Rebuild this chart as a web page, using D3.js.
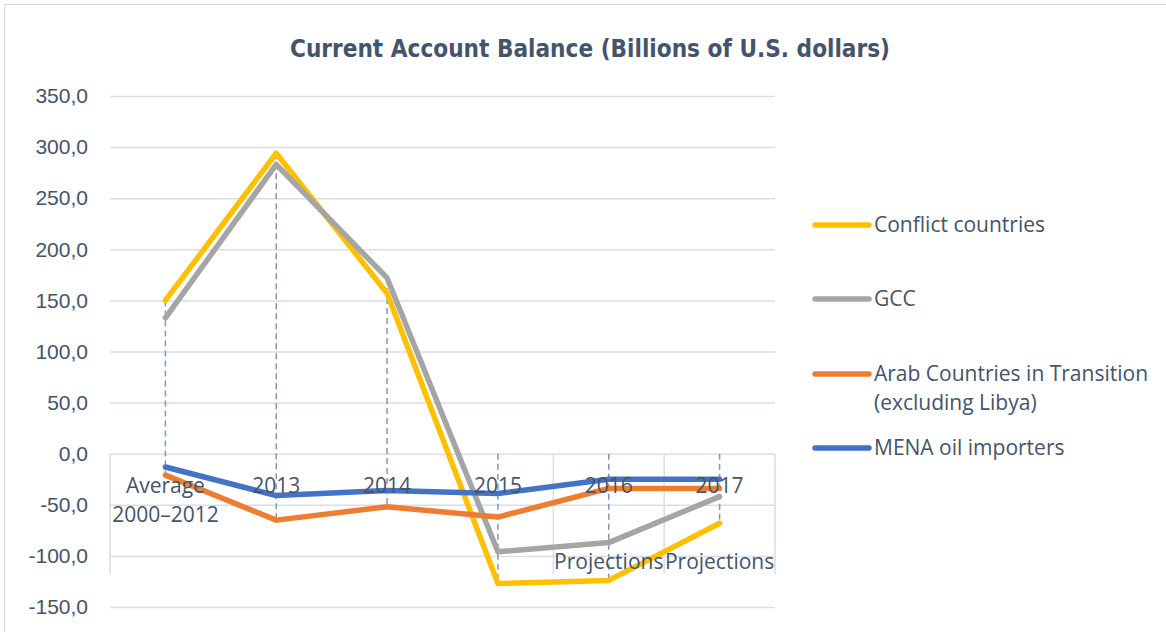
<!DOCTYPE html>
<html>
<head>
<meta charset="utf-8">
<script src="https://cdn.jsdelivr.net/npm/d3@7"></script>
<style>
  body { margin: 0; background: #fff; }
  text { fill: #44546a; }
</style>
</head>
<body>
<script>
var categories = ['Average 2000\u20132012', '2013', '2014', '2015', '2016', '2017'];
var catLines = [['Average', '2000\u20132012'], ['2013'], ['2014'], ['2015'], ['2016'], ['2017']];
var groupLabels = ['', '', '', '', 'Projections', 'Projections'];

var seriesNames = ['Conflict countries', 'GCC', 'Arab Countries in Transition (excluding Libya)', 'MENA oil importers'];
var seriesColors = ['#ffc000', '#a5a5a5', '#ed7d31', '#4472c4'];

var conflict = [150, 294, 157, -127, -124, -68];
var gcc = [133, 283, 172, -96, -87, -42];
var transition = [-21, -65, -52, -62, -34, -34];
var menaImporters = [-13, -41, -36, -39, -25, -25];

var yTicks = [-150, -100, -50, 0, 50, 100, 150, 200, 250, 300, 350];

var width = 1166,
    height = 632,
    plot = {left: 110, right: 775, top: 96, bottom: 607};

var allSeries = [conflict, gcc, transition, menaImporters];

var x = d3.scaleBand().domain(categories).range([plot.left, plot.right]).padding(0);
var y = d3.scaleLinear().domain([-150, 350]).range([plot.bottom, plot.top]);

var svg = d3.select('body').append('svg')
    .attr('width', width)
    .attr('height', height)
    .style('font-family', '"Open Sans", sans-serif');

// outer chart border
svg.append('rect')
    .attr('x', 4.5).attr('y', 4.5)
    .attr('width', width + 10).attr('height', height + 10)
    .attr('fill', 'none')
    .attr('stroke', '#d9d9d9');

svg.append('text')
    .attr('x', 590)
    .attr('y', 57)
    .attr('text-anchor', 'middle')
    .style('font-family', '"DejaVu Sans Condensed", "DejaVu Sans", sans-serif')
    .style('font-weight', 'bold')
    .style('font-size', '24px')
    .attr('textLength', 600)
    .attr('lengthAdjust', 'spacingAndGlyphs')
    .text('Current Account Balance (Billions of U.S. dollars)');

// horizontal gridlines + y labels
var axisY = d3.axisLeft(y).tickValues(yTicks)
    .tickSize(-(plot.right - plot.left))
    .tickFormat(function(d) { return d.toFixed(1).replace('.', ','); });

var gy = svg.append('g')
    .attr('class', 'y axis')
    .attr('transform', 'translate(' + plot.left + ',0)')
    .call(axisY);
gy.select('.domain').remove();
gy.selectAll('line').attr('stroke', '#d9dde6').attr('stroke-width', 1.5);
gy.selectAll('text')
    .attr('x', 88 - plot.left)
    .style('font-size', '21px')
    .style('fill', '#44546a');

// category group dividers below zero line
var dividers = [0, 4, 5, 6];
svg.append('g')
    .selectAll('line')
    .data(dividers)
    .enter()
    .append('line')
    .attr('x1', function(d) { return plot.left + d * x.step(); })
    .attr('x2', function(d) { return plot.left + d * x.step(); })
    .attr('y1', y(0))
    .attr('y2', y(-118))
    .attr('stroke', '#d9dde6')
    .attr('stroke-width', 1.5);

// drop lines
svg.append('g')
    .selectAll('line')
    .data(categories)
    .enter()
    .append('line')
    .attr('x1', function(d) { return x(d) + x.bandwidth() / 2; })
    .attr('x2', function(d) { return x(d) + x.bandwidth() / 2; })
    .attr('y1', function(d, i) { return y(Math.max(0, d3.max(allSeries, function(s) { return s[i]; }))); })
    .attr('y2', function(d, i) { return y(Math.min(0, d3.min(allSeries, function(s) { return s[i]; }))); })
    .attr('stroke', '#8496b0')
    .attr('stroke-width', 1.5)
    .attr('stroke-dasharray', '6,4');

// series lines
var line = d3.line()
    .x(function(d, i) { return x(categories[i]) + x.bandwidth() / 2; })
    .y(function(d) { return y(d); });

svg.append('g')
    .selectAll('path')
    .data(allSeries)
    .enter()
    .append('path')
    .attr('d', line)
    .attr('fill', 'none')
    .attr('stroke', function(d, i) { return seriesColors[i]; })
    .attr('stroke-width', 5.5)
    .attr('stroke-linejoin', 'round')
    .attr('stroke-linecap', 'round');

// category labels (drawn over the lines, as in the original)
var catG = svg.append('g').attr('class', 'x labels');
catLines.forEach(function(lines, i) {
    var t = catG.append('text')
        .attr('x', x(categories[i]) + x.bandwidth() / 2)
        .attr('y', y(0) + 39)
        .attr('text-anchor', 'middle')
        .style('font-size', '21px');
    lines.forEach(function(l, j) {
        t.append('tspan')
            .attr('x', x(categories[i]) + x.bandwidth() / 2)
            .attr('dy', j === 0 ? 0 : 29)
            .text(l);
    });
});
catG.selectAll('.group')
    .data(groupLabels)
    .enter()
    .append('text')
    .attr('x', function(d, i) { return x(categories[i]) + x.bandwidth() / 2; })
    .attr('y', y(0) + 115)
    .attr('text-anchor', 'middle')
    .style('font-size', '21px')
    .text(function(d) { return d; });

// legend
var legendY = [225, 299, 374, 448];
var legend = svg.append('g').attr('class', 'legend');
seriesNames.forEach(function(name, i) {
    legend.append('line')
        .attr('x1', 815).attr('x2', 869)
        .attr('y1', legendY[i]).attr('y2', legendY[i])
        .attr('stroke', seriesColors[i])
        .attr('stroke-width', 5.5)
        .attr('stroke-linecap', 'round');
    var t = legend.append('text')
        .attr('x', 874)
        .attr('y', legendY[i] + 7)
        .style('font-size', '21px');
    if (i === 2) {
        t.append('tspan').attr('x', 874).text('Arab Countries in Transition');
        t.append('tspan').attr('x', 874).attr('dy', 29).text('(excluding Libya)');
    } else {
        t.text(name);
    }
});
</script>
</body>
</html>
